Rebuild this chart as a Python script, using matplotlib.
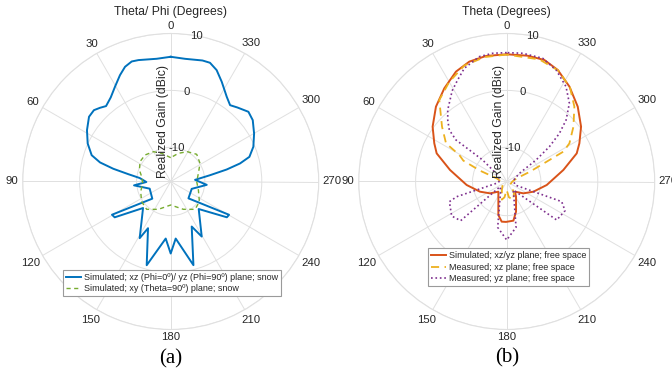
import matplotlib
matplotlib.use("Agg")
import matplotlib.pyplot as plt
import numpy as np

plt.rcParams["font.family"] = ["Liberation Sans", "DejaVu Sans"]

# ---- data (theta in degrees, realized gain in dBic) ----
theta_ticks = [0, 30, 60, 90, 120, 150, 180, 210, 240, 270, 300, 330]
r_ticks = [-10, 0, 10]

# (a) xz / yz plane, snow
sim_snow_theta = [0, 6.5, 14.9, 18.0, 21.7, 25.5, 30.5, 35.5, 40.6, 43.8,
                  47.1, 51.6, 58.5, 65.4, 71.6, 74.9, 77.5, 80.2, 83.6, 91.2,
                  96.0, 108.8, 133.0, 119.5, 122.6, 133.8, 151.3, 154.1, 164.0, 175.0,
                  180.0, 185.0, 195.2, 205.0, 209.4, 225.5, 237.5, 240.3, 226.5, 250.7,
                  264.7, 273.9, 279.1, 282.1, 284.6, 287.4, 292.8, 299.9, 306.8, 311.9,
                  318.0, 322.1, 326.5, 332.9, 337.6, 341.7, 345.3, 353.3, 360]
sim_snow_gain = [5.91, 5.70, 6.07, 6.17, 5.69, 4.70, 3.30, 2.14, 1.45, 1.94,
                 2.41, 2.31, 1.25, 0.04, -1.37, -3.14, -5.68, -8.45, -10.52, -11.72,
                 -9.52, -12.1, -11.58, -4.15, -4.32, -9.27, -4.65, -6.88, -0.70, -5.94,
                 -3.35, -5.94, -0.77, -7.27, -4.9, -9.1, -4.3, -4.2, -11.7, -12.09,
                 -9.64, -11.71, -9.0, -5.94, -3.41, -1.51, -0.25, 0.90, 2.0, 2.34,
                 1.50, 0.99, 1.84, 3.68, 5.17, 5.97, 5.98, 5.70, 5.91]

# (a) xy plane, snow
sim_xy_theta = [0, 17.7, 30.2, 44.1, 57.1, 69.8, 80.5, 93.7, 108.7, 124.8, 139.2, 156.1,
                180, 204.5, 221.2, 234.9, 252.9, 269.6, 286.4, 301.8, 316.3, 330.8, 344.8, 360]
sim_xy_gain = [-11.81, -10.80, -9.94, -9.52, -9.58, -10.14, -10.83, -11.07, -10.43, -9.79, -9.54, -10.65,
               -11.87, -10.63, -9.50, -9.84, -10.91, -11.43, -10.93, -9.94, -9.39, -10.0, -10.87, -11.81]

# (b) simulated xz/yz, free space
sim_fs_theta = [0, 9.4, 17.3, 24.8, 33.8, 43.4, 53.5, 62.2, 68.1, 78.5,
                95, 110.9, 125.4, 140.7, 153.7, 166, 172.9, 179, 189.7, 197.2,
                211.6, 219.3, 234.6, 249.1, 265, 281.5, 291.9, 297.7, 306.4, 316.5,
                326.5, 335.4, 342.8, 350.6, 360]
sim_fs_gain = [6.35, 6.35, 6.06, 5.26, 3.70, 2.09, 0.19, -1.62, -2.74, -5.84,
               -8.94, -10.98, -12.41, -13.69, -12.70, -9.93, -8.89, -8.9, -9.02, -10.45,
               -12.87, -13.69, -12.41, -10.98, -8.94, -5.84, -2.74, -1.58, 0.23, 2.13,
               3.98, 5.55, 6.35, 6.4, 6.35]

# (b) measured xz, free space
meas_xz_theta = [0, 10, 20, 30, 39.6, 49.7, 57.8, 60.8, 64.3, 67.9,
                 72.4, 90, 120, 150, 165, 172, 180, 188, 200, 212,
                 240, 270, 287.6, 292.9, 296.4, 297.8, 301.3, 309.4, 317.9, 326,
                 335, 345, 360]
meas_xz_gain = [6.3, 6.2, 5.7, 4.2, 2.58, -1.10, -3.40, -6.47, -7.55, -10.94,
                -14.16, -15.0, -15.2, -14.3, -12.7, -13.2, -14.5, -13.2, -12.6, -13.6,
                -15.2, -15.0, -14.16, -11.55, -8.15, -4.75, -3.11, -0.83, 1.73, 3.9,
                5.5, 6.2, 6.3]

# (b) measured yz, free space
meas_yz_theta = [0, 6.2, 12.4, 20.5, 25.8, 31, 39.5, 44, 48.1, 50.7,
                 49.8, 48.2, 52.6, 75, 98, 106.9, 109.4, 122.1, 130.4, 127.8,
                 144.8, 168.9, 180, 191.5, 218.1, 232.4, 243.4, 249.9, 247.2, 280,
                 302.8, 306.2, 309.2, 312.4, 316, 321.3, 328, 336.1, 343.7, 352.9,
                 360]
meas_yz_gain = [6.64, 6.66, 6.46, 5.24, 3.81, 2.6, 0.29, -1.1, -2.46, -4.49,
                -7.42, -10.34, -13.64, -14.8, -14.5, -6.82, -5.32, -4.59, -5.38, -14.52,
                -14.17, -7.79, -5.72, -7.78, -14.1, -4.91, -4.54, -5.71, -14.4, -14.8,
                -13.35, -9.61, -6.32, -3.46, -0.98, 1.61, 3.66, 5.43, 6.55, 6.70,
                6.64]

txt = "#262626"
grid = "#e0e0e0"

fig = plt.figure(figsize=(6.72, 3.71), dpi=100)
W, H = 672.0, 371.0
R = 148.0
renderer = fig.canvas.get_renderer()


def setup(cx, cy, title):
    ax = fig.add_axes([(cx - R) / W, (H - cy - R) / H, 2 * R / W, 2 * R / H],
                      projection="polar")
    ax.set_theta_zero_location("N")
    ax.set_theta_direction(1)
    ax.set_ylim(-16, 10)
    ax.set_yticks(r_ticks)
    ax.set_yticklabels([])
    ax.set_xticks(np.deg2rad(theta_ticks))
    ax.set_xticklabels([])
    ax.tick_params(length=0)
    ax.grid(True, color=grid, lw=0.7)
    ax.spines["polar"].set_color(grid)
    ax.spines["polar"].set_linewidth(0.8)

    # angle labels: keep a constant gap between the circle and the text box
    for t in theta_ticks:
        a = np.deg2rad(t)
        ux, uy = -np.sin(a), np.cos(a)
        lab = fig.text(0, 0, str(t), fontsize=8.2, color=txt,
                       ha="center", va="center")
        bb = lab.get_window_extent(renderer)
        ext = abs(ux) * bb.width / 2 + abs(uy) * bb.height * 0.36
        d = R + 4 + ext
        lab.set_position(((cx + d * ux) / W, (H - cy + d * uy) / H))

    for r in r_ticks:
        ax.text(np.deg2rad(-10), r, str(r), fontsize=8.2, color=txt,
                ha="center", va="center")
    ax.text(0.474, 0.704, "Realized Gain (dBic)", transform=ax.transAxes,
            rotation=90, ha="center", va="center", fontsize=8.8, color=txt)
    ax.text(0.5, 1.072, title, transform=ax.transAxes, ha="center", va="center",
            fontsize=8.7, color=txt)
    return ax


# (a)
ax1 = setup(170.7, 181.5, "Theta/ Phi (Degrees)")
ax1.plot(np.deg2rad(sim_snow_theta), sim_snow_gain, color="#0072BD", lw=1.4,
         label="Simulated; xz (Phi=0º)/ yz (Phi=90º) plane; snow")
ax1.plot(np.deg2rad(sim_xy_theta), sim_xy_gain, color="#77AC30", lw=1.0,
         dashes=(3, 2.5), label="Simulated; xy (Theta=90º) plane; snow")
leg1 = ax1.legend(loc="upper center", bbox_to_anchor=(172 / W, 1 - 270 / H),
                  bbox_transform=fig.transFigure, fontsize=6.5, fancybox=False,
                  edgecolor="#9a9a9a", framealpha=1, borderpad=0.3,
                  handlelength=1.7, handletextpad=0.3, labelspacing=0.3,
                  borderaxespad=0)
leg1.get_frame().set_linewidth(0.8)
for t in leg1.get_texts():
    t.set_color(txt)

# (b)
ax2 = setup(506.7, 181.5, "Theta (Degrees)")
ax2.plot(np.deg2rad(sim_fs_theta), sim_fs_gain, color="#D95319", lw=1.4,
         label="Simulated; xz/yz plane; free space")
ax2.plot(np.deg2rad(meas_xz_theta), meas_xz_gain, color="#EDB120", lw=1.3,
         dashes=(4.5, 3), label="Measured; xz plane; free space")
ax2.plot(np.deg2rad(meas_yz_theta), meas_yz_gain, color="#7E2F8E", lw=1.2,
         linestyle=":", label="Measured; yz plane; free space")
leg2 = ax2.legend(loc="upper center", bbox_to_anchor=(508.8 / W, 1 - 248.3 / H),
                  bbox_transform=fig.transFigure, fontsize=6.5, fancybox=False,
                  edgecolor="#9a9a9a", framealpha=1, borderpad=0.3,
                  handlelength=1.7, handletextpad=0.3, labelspacing=0.3,
                  borderaxespad=0)
leg2.get_frame().set_linewidth(0.8)
for t in leg2.get_texts():
    t.set_color(txt)

fig.text(171 / W, 1 - 359 / H, "(a)", family="Liberation Serif", fontsize=15,
         ha="center", va="center", color="black")
fig.text(507 / W, 1 - 358 / H, "(b)", family="Liberation Serif", fontsize=15,
         ha="center", va="center", color="black")

fig.savefig("out.png", dpi=100)
